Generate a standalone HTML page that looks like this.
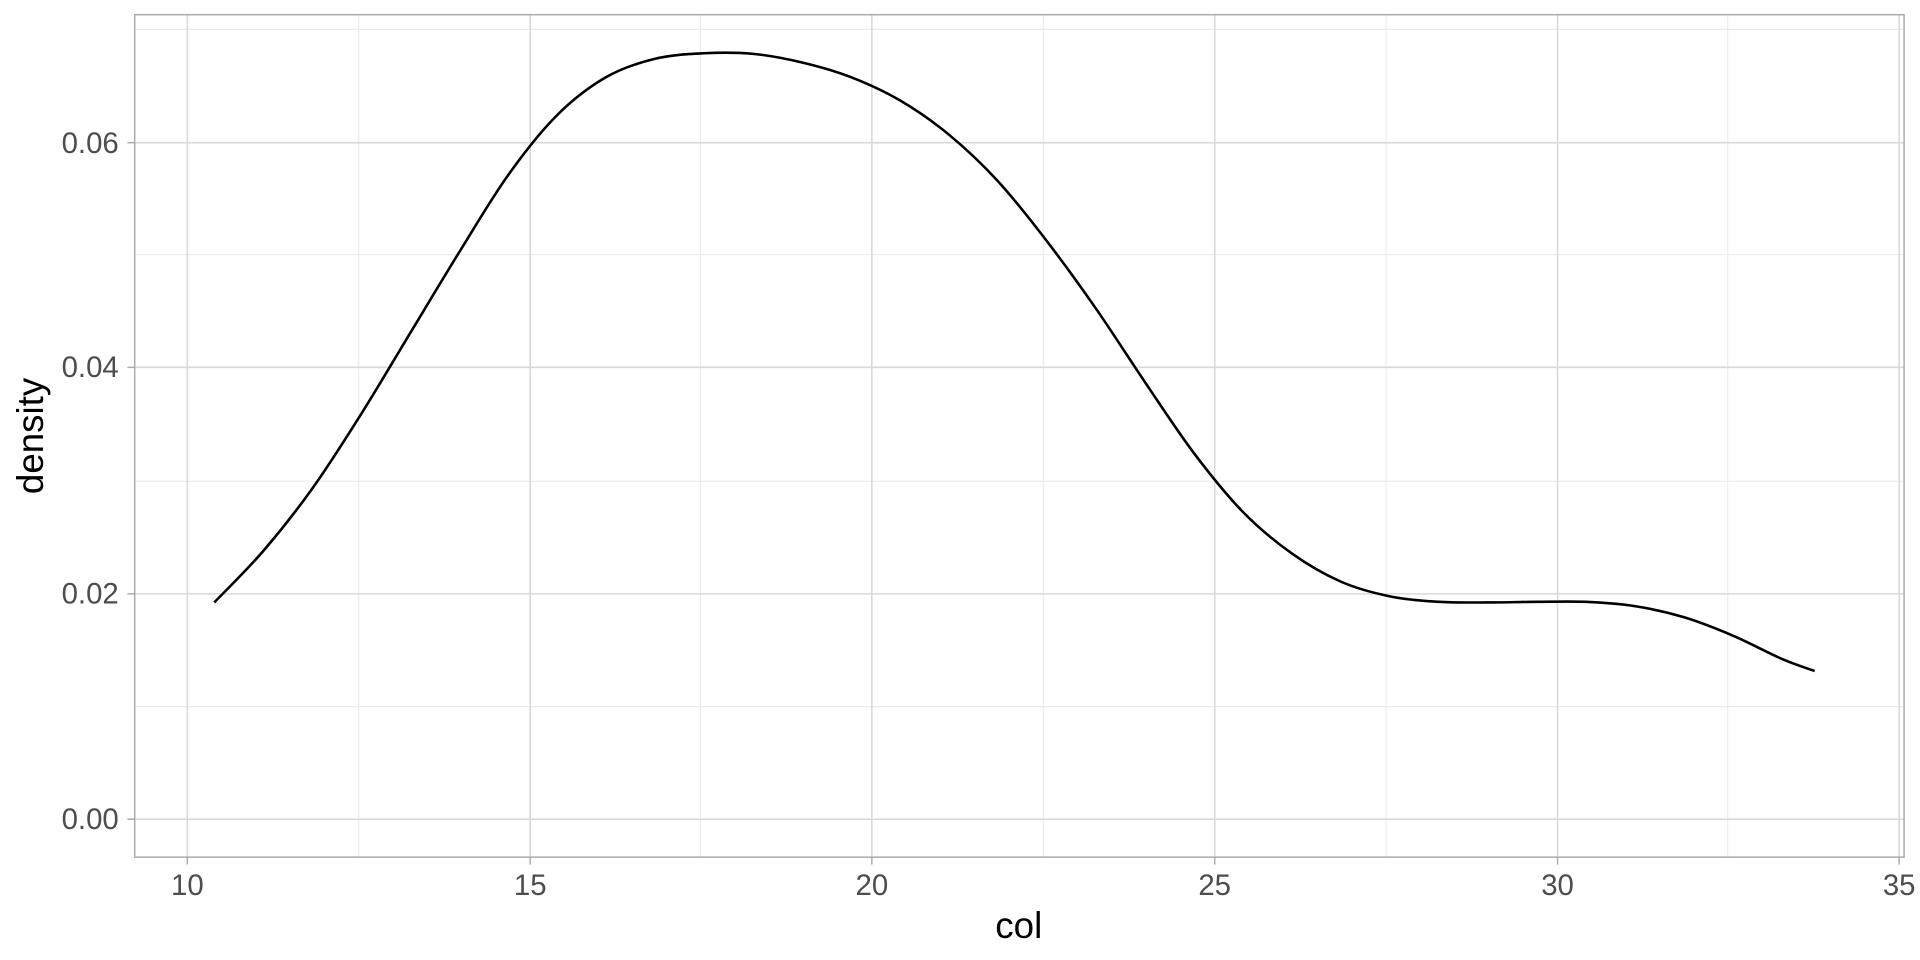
<!DOCTYPE html>
<html><head><style>body{margin:0;background:#fff}svg{display:block}</style></head><body>
<svg width="1920" height="960" viewBox="0 0 1568 784" xmlns="http://www.w3.org/2000/svg" font-family="Liberation Sans, sans-serif">
<rect width="1568" height="784" fill="#fff"/>
<g stroke="#ebebeb" stroke-width="0.9">
<line x1="110" x2="1555" y1="577" y2="577"/><line x1="110" x2="1555" y1="393" y2="393"/><line x1="110" x2="1555" y1="208" y2="208"/><line x1="110" x2="1555" y1="24" y2="24"/>
<line y1="12" y2="700" x1="293" x2="293"/><line y1="12" y2="700" x1="572" x2="572"/><line y1="12" y2="700" x1="852" x2="852"/><line y1="12" y2="700" x1="1132" x2="1132"/><line y1="12" y2="700" x1="1411" x2="1411"/>
</g>
<g stroke="#d9d9d9" stroke-width="1.3">
<line x1="110" x2="1555" y1="669" y2="669"/><line x1="110" x2="1555" y1="485" y2="485"/><line x1="110" x2="1555" y1="300" y2="300"/><line x1="110" x2="1555" y1="116.5" y2="116.5"/>
<line y1="12" y2="700" x1="153" x2="153"/><line y1="12" y2="700" x1="433" x2="433"/><line y1="12" y2="700" x1="712" x2="712"/><line y1="12" y2="700" x1="992" x2="992"/><line y1="12" y2="700" x1="1272" x2="1272"/><line y1="12" y2="700" x1="1551" x2="1551"/>
</g>
<rect x="110" y="12" width="1445" height="688" fill="none" stroke="#aaa" stroke-width="1.2"/>
<g stroke="#aaa" stroke-width="1.2">
<line x1="104" x2="110" y1="669" y2="669"/><line x1="104" x2="110" y1="485" y2="485"/><line x1="104" x2="110" y1="300" y2="300"/><line x1="104" x2="110" y1="116.5" y2="116.5"/>
<line y1="700" y2="706" x1="153" x2="153"/><line y1="700" y2="706" x1="433" x2="433"/><line y1="700" y2="706" x1="712" x2="712"/><line y1="700" y2="706" x1="992" x2="992"/><line y1="700" y2="706" x1="1272" x2="1272"/><line y1="700" y2="706" x1="1551" x2="1551"/>
</g>
<path id="curve" fill="none" stroke="#000" stroke-width="2.1" stroke-linejoin="round" d="M175,492 L215,450 L255,399 L295,338 L335,272 L375,206 L415,143 L455,94 L495,63 L535,48 L575,43.5 L615,44 L655,51 L695,63 L735,82 L775,110 L815,148 L855,197 L895,252 L935,312 L975,370 L1015,418 L1055,452 L1095,475 L1135,487 L1175,491.5 L1215,492 L1255,491.5 L1295,491.5 L1335,495 L1375,504 L1415,519 L1455,538 L1482,548"/>
<g fill="#4d4d4d" font-size="24" text-anchor="end">
<text x="97" y="677">0.00</text><text x="97" y="493">0.02</text><text x="97" y="308">0.04</text><text x="97" y="125">0.06</text>
</g>
<g fill="#4d4d4d" font-size="24" text-anchor="middle">
<text x="153" y="731">10</text><text x="433" y="731">15</text><text x="712" y="731">20</text><text x="992" y="731">25</text><text x="1272" y="731">30</text><text x="1551" y="731">35</text>
</g>
<text x="832" y="766" font-size="30" text-anchor="middle" fill="#000">col</text>
<text transform="translate(35,356) rotate(-90)" font-size="30" text-anchor="middle" fill="#000">density</text>
</svg>
<script>
(function(){
var p=[[175,492],[215,450],[255,399],[295,338],[335,272],[375,206],[415,143],[455,94],[495,63],[535,48],[575,43.5],[615,44],[655,51],[695,63],[735,82],[775,110],[815,148],[855,197],[895,252],[935,312],[975,370],[1015,418],[1055,452],[1095,475],[1135,487],[1175,491.5],[1215,492],[1255,491.5],[1295,491.5],[1335,495],[1375,504],[1415,519],[1455,538],[1482,548]];
var d="M"+p[0][0]+","+p[0][1];
for(var i=0;i<p.length-1;i++){
var p0=p[i>0?i-1:0],p1=p[i],p2=p[i+1],p3=p[i+2<p.length?i+2:i+1];
var c1x=p1[0]+(p2[0]-p0[0])/6,c1y=p1[1]+(p2[1]-p0[1])/6,c2x=p2[0]-(p3[0]-p1[0])/6,c2y=p2[1]-(p3[1]-p1[1])/6;
d+=" C"+c1x.toFixed(2)+","+c1y.toFixed(2)+" "+c2x.toFixed(2)+","+c2y.toFixed(2)+" "+p2[0]+","+p2[1];
}
document.getElementById("curve").setAttribute("d",d);
})();
</script>
</body></html>
